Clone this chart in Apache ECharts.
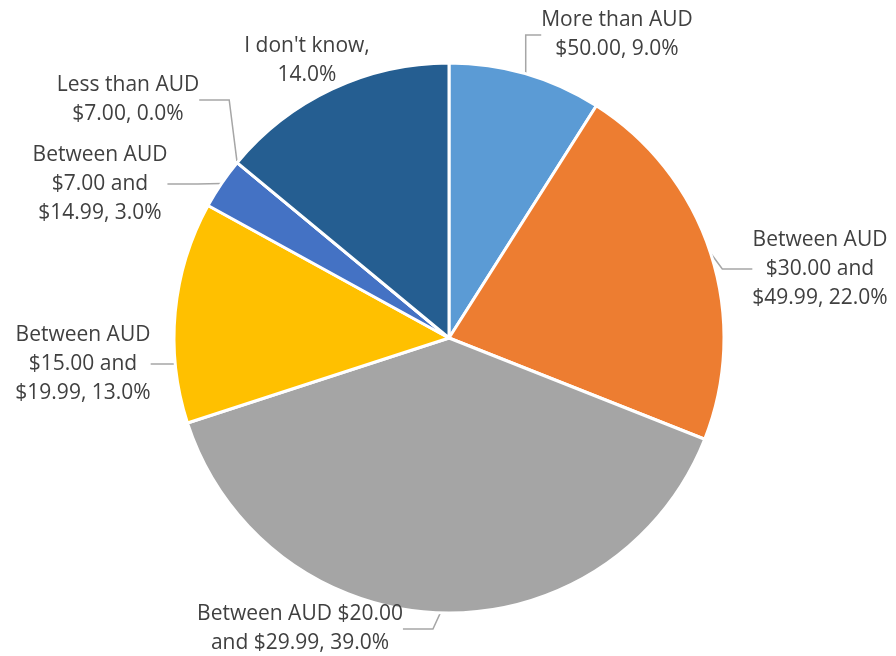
<!DOCTYPE html>
<html>
<head>
<meta charset="utf-8">
<script src="https://cdn.jsdelivr.net/npm/echarts@6/dist/echarts.min.js"></script>
<style>
  html, body { margin: 0; padding: 0; background: #fff; }
  #chart { width: 896px; height: 656px; }
</style>
</head>
<body>
<div id="chart"></div>
<script>
// categories, clockwise from 12 o'clock
const categories = [
  'More than AUD $50.00',
  'Between AUD $30.00 and $49.99',
  'Between AUD $20.00 and $29.99',
  'Between AUD $15.00 and $19.99',
  'Between AUD $7.00 and $14.99',
  'Less than AUD $7.00',
  "I don't know"
];
const shares = [9.0, 22.0, 39.0, 13.0, 3.0, 0.0, 14.0];
const labelText = [
  'More than AUD\n$50.00',
  'Between AUD\n$30.00 and\n$49.99',
  'Between AUD $20.00\nand $29.99',
  'Between AUD\n$15.00 and\n$19.99',
  'Between AUD\n$7.00 and\n$14.99',
  'Less than AUD\n$7.00',
  "I don't know,\n"
];
const colors = ['#5B9BD5', '#ED7D31', '#A5A5A5', '#FFC000', '#4472C4', '#70AD47', '#255E91'];

// where each label box sits (center), Excel put them by hand
const labelPos = [
  [617, 35], [820, 269], [300, 629], [83, 364], [100, 184], [128, 100], [307, 61]
];

const chart = echarts.init(document.getElementById('chart'));
chart.setOption({
  animation: false,
  series: [{
    type: 'pie',
    center: [449, 338],
    radius: 275,
    startAngle: 90,
    clockwise: true,
    data: categories.map((name, i) => ({
      name: name,
      value: shares[i],
      itemStyle: { color: colors[i] },
      labelLine: { show: i !== 6 }
    })),
    itemStyle: { borderColor: '#fff', borderWidth: 3 },
    label: {
      show: true,
      position: 'outside',
      overflow: 'none',
      fontFamily: 'Open Sans',
      fontSize: 21,
      lineHeight: 29,
      color: '#404040',
      align: 'center',
      formatter: p => {
        const t = labelText[p.dataIndex];
        const sep = t.endsWith('\n') ? '' : ', ';
        return t + sep + p.value.toFixed(1) + '%';
      }
    },
    labelLine: {
      show: true,
      lineStyle: { color: '#A6A6A6', width: 1.5 }
    },
    labelLayout: p => ({
      x: labelPos[p.dataIndex][0],
      y: labelPos[p.dataIndex][1],
      align: 'center',
      verticalAlign: 'middle'
    })
  }]
});
</script>
</body>
</html>
